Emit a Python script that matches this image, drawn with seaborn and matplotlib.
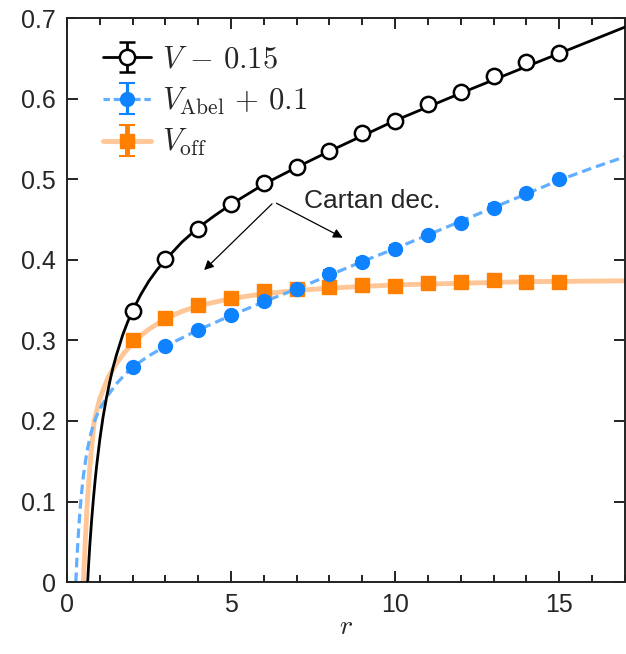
import matplotlib
matplotlib.use("Agg")
import matplotlib.pyplot as plt
import numpy as np
import seaborn as sns
from matplotlib.ticker import MultipleLocator

# lattice points
r_pts = [2, 3, 4, 5, 6, 7, 8, 9, 10, 11, 12, 13, 14, 15]
v_full = [0.337, 0.401, 0.439, 0.469, 0.496, 0.515, 0.535, 0.558, 0.572, 0.593, 0.608, 0.628, 0.646, 0.657]
v_abel = [0.267, 0.293, 0.313, 0.331, 0.349, 0.364, 0.383, 0.398, 0.414, 0.431, 0.446, 0.465, 0.483, 0.500]
v_off = [0.300, 0.328, 0.344, 0.353, 0.362, 0.364, 0.366, 0.369, 0.368, 0.371, 0.373, 0.375, 0.373, 0.372]
err_full = [0.003] * 14
err_abel = [0.004] * 14
err_off = [0.003] * 14

# fit curves
r_fit_full = [0.63, 0.66, 0.7, 0.75, 0.8, 0.85, 0.9, 1.0, 1.1, 1.2, 1.3, 1.4, 1.5, 1.7, 1.85,
              2, 2.25, 2.5, 2.75, 3, 3.5, 4, 4.5, 5, 6, 7, 8, 10, 12, 14, 17]
v_fit_full = [0.0, 0.022, 0.048, 0.076, 0.101, 0.123, 0.143, 0.177, 0.205, 0.228, 0.248, 0.266,
              0.281, 0.307, 0.323, 0.337, 0.357, 0.374, 0.388, 0.400, 0.422, 0.440, 0.455,
              0.469, 0.494, 0.515, 0.535, 0.573, 0.607, 0.640, 0.689]
r_fit_abel = [0.27, 0.3, 0.35, 0.4, 0.45, 0.5, 0.6, 0.7, 0.8, 0.9, 1.0, 1.25, 1.5, 1.75, 2,
              2.5, 3, 4, 5, 6, 7, 8, 9, 10, 11, 12, 13, 14, 15, 16, 17]
v_fit_abel = [0.0, 0.027, 0.062, 0.09, 0.113, 0.132, 0.16, 0.18, 0.195, 0.206, 0.215, 0.232,
              0.246, 0.257, 0.267, 0.281, 0.293, 0.313, 0.331, 0.348, 0.364, 0.381, 0.398,
              0.414, 0.431, 0.448, 0.465, 0.482, 0.499, 0.514, 0.528]
r_fit_off = [0.5, 0.55, 0.62, 0.7, 0.83, 1.0, 1.25, 1.5, 1.75, 2, 2.25, 2.5, 3, 3.5, 4, 5, 6,
             7, 8, 9, 10, 12, 14, 17]
v_fit_off = [0.0, 0.045, 0.1, 0.145, 0.2, 0.228, 0.254, 0.271, 0.285, 0.296, 0.306, 0.314,
             0.327, 0.336, 0.343, 0.352, 0.358, 0.362, 0.365, 0.367, 0.369, 0.371, 0.373, 0.374]

labels = [r"$V\,-\,0.15$", r"$V_{\rm Abel}\,+\,0.1$", r"$V_{\rm off}$"]

sns.set_theme(style="ticks")
plt.rcParams["font.family"] = ["Liberation Sans", "DejaVu Sans"]
plt.rcParams["mathtext.fontset"] = "cm"

black = "black"
blue_pt = "#0F83FF"
blue_ln = "#62AEFF"
orange_pt = "#FF7F00"
orange_ln = "#FFC797"

fig = plt.figure(figsize=(6.26, 6.54), dpi=100)
ax = fig.add_axes([0.107, 0.110, 0.891, 0.862])

# fit curves
sns.lineplot(x=r_fit_off, y=v_fit_off, color=orange_ln, lw=3.5, ax=ax, zorder=1)
sns.lineplot(x=r_fit_abel, y=v_fit_abel, color=blue_ln, lw=2.3, ax=ax, zorder=2)
ax.lines[-1].set_dashes([3, 1.6])
sns.lineplot(x=r_fit_full, y=v_fit_full, color=black, lw=2.0, ax=ax, zorder=3)

# data points with error bars
ax.errorbar(r_pts, v_off, yerr=err_off, fmt="s", color=orange_pt, ms=10, capsize=4,
            elinewidth=1.5, capthick=1.5, zorder=4)
ax.errorbar(r_pts, v_abel, yerr=err_abel, fmt="o", color=blue_pt, ms=10, capsize=4,
            elinewidth=1.5, capthick=1.5, zorder=5)
ax.errorbar(r_pts, v_full, yerr=err_full, fmt="o", color=black, mfc="white", mec=black,
            mew=1.8, ms=11, capsize=4, elinewidth=1.5, capthick=1.5, zorder=6)

# legend proxies
h1 = ax.errorbar([np.nan], [np.nan], yerr=[0.01], fmt="-o", color=black, mfc="white",
                 mew=1.8, ms=11, lw=2.0, capsize=6, capthick=1.5)
h2 = ax.errorbar([np.nan], [np.nan], yerr=[0.01], fmt="o", ls=(0, (2, 1.2)), color=blue_ln,
                 mfc=blue_pt, mec=blue_pt, ms=10, lw=2.3, ecolor=blue_pt, capsize=6, capthick=1.5)
h3 = ax.errorbar([np.nan], [np.nan], yerr=[0.01], fmt="s", ls="-", color=orange_ln,
                 mfc=orange_pt, mec=orange_pt, ms=10, lw=3.5, ecolor=orange_pt, capsize=6,
                 capthick=1.5)
ax.legend([h1, h2, h3], labels, loc="upper left", bbox_to_anchor=(0.043, 0.975),
          frameon=False, fontsize=22, handlelength=1.55, handletextpad=0.36,
          labelspacing=0.35, borderaxespad=0.0)

# annotation
ax.text(7.22, 0.465, "Cartan dec.", fontsize=19, ha="left", va="baseline")
ax.annotate("", xy=(4.12, 0.385), xytext=(6.31, 0.472),
            arrowprops=dict(arrowstyle="-|>", color="black", lw=0.9, mutation_scale=14))
ax.annotate("", xy=(8.48, 0.426), xytext=(6.31, 0.472),
            arrowprops=dict(arrowstyle="-|>", color="black", lw=0.9, mutation_scale=14))

ax.set_xlim(0, 17)
ax.set_ylim(0, 0.7)
ax.xaxis.set_minor_locator(MultipleLocator(1))
ax.set_yticks([0, 0.1, 0.2, 0.3, 0.4, 0.5, 0.6, 0.7])
ax.set_yticklabels(["0", "0.1", "0.2", "0.3", "0.4", "0.5", "0.6", "0.7"])
ax.set_xticks([0, 5, 10, 15])
ax.set_xticklabels(["0", "5", "10", "15"])
ax.tick_params(which="both", direction="in", top=True, right=True, labelsize=18,
               width=1.4, color="#222222")
ax.tick_params(which="major", length=8, pad=8)
ax.tick_params(which="minor", length=5)
for s in ax.spines.values():
    s.set_linewidth(1.4)
    s.set_color("#222222")
ax.set_xlabel(r"$r$", fontsize=20, labelpad=-2)
ax.set_ylabel("")

fig.savefig("out.png", dpi=100)
